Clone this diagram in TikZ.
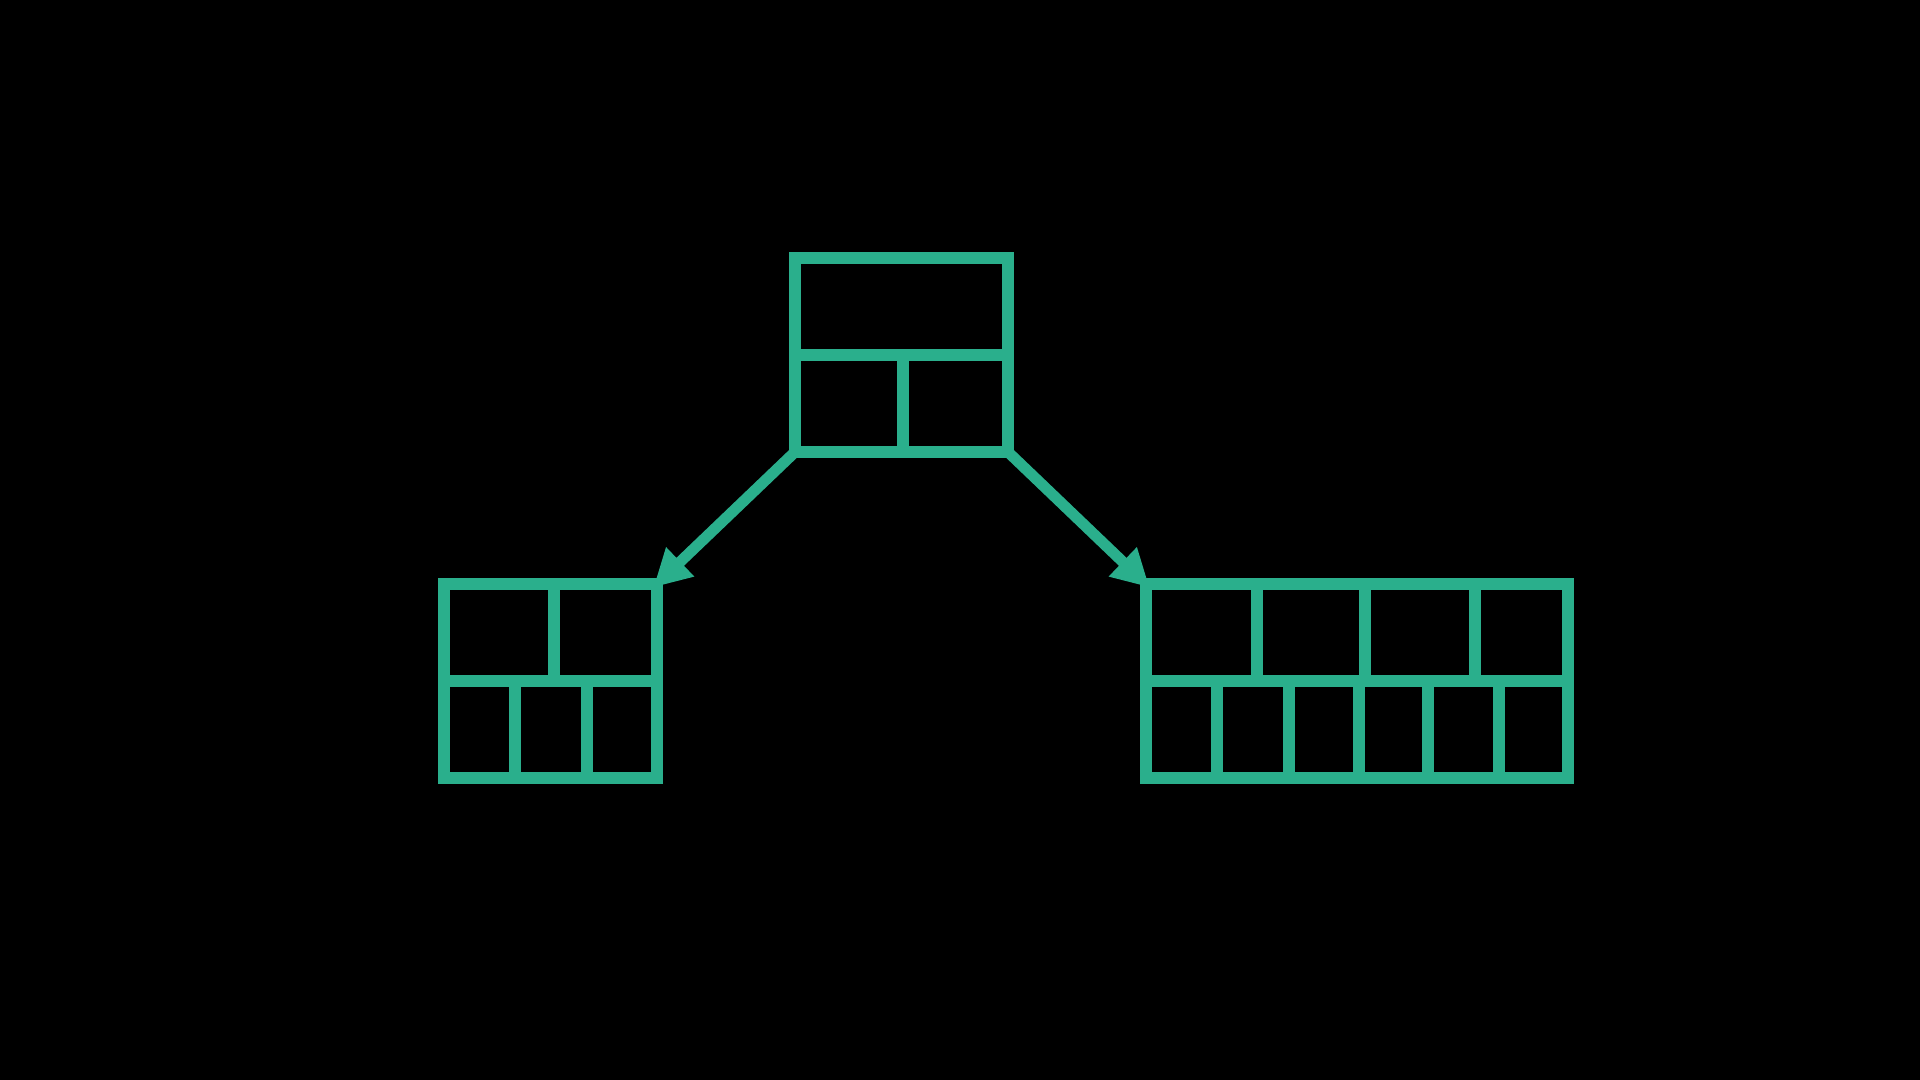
\documentclass[tikz,border=0pt]{standalone}
\usetikzlibrary{arrows.meta}

\definecolor{treegreen}{RGB}{42,175,140}

\tikzset{
  block/.style={draw=treegreen, line width=0.12cm, inner sep=0pt, outer sep=0pt, minimum height=1.94cm},
  cell/.style={draw=treegreen, line width=0.12cm},
  link/.style={draw=treegreen, line width=0.11cm, shorten >=-0.05cm,
    -{Triangle[length=0.37cm,width=0.38cm]}}
}

\begin{document}
\begin{tikzpicture}[x=0.01cm, y=-0.01cm]
\fill[black] (0, 0) rectangle (1920, 1080);
\useasboundingbox (0, 0) rectangle (1920, 1080);

% parent
\node[block, minimum width=2.13cm] (root) at (901.5, 355) {};
\draw[cell] (root.west) -- (root.east);
\draw[cell] (903, 355) -- (903, 452);

% left child
\node[block, minimum width=2.13cm] (left) at (550.5, 681) {};
\draw[cell] (left.west) -- (left.east);
\draw[cell] (554, 584) -- (554, 681);
\draw[cell] (515, 681) -- (515, 778);
\draw[cell] (587, 681) -- (587, 778);

% right child
\node[block, minimum width=4.22cm] (right) at (1357, 681) {};
\draw[cell] (right.west) -- (right.east);
\draw[cell] (1257, 584) -- (1257, 681);
\draw[cell] (1365, 584) -- (1365, 681);
\draw[cell] (1475, 584) -- (1475, 681);
\draw[cell] (1217, 681) -- (1217, 778);
\draw[cell] (1289, 681) -- (1289, 778);
\draw[cell] (1359, 681) -- (1359, 778);
\draw[cell] (1428, 681) -- (1428, 778);
\draw[cell] (1499, 681) -- (1499, 778);

\draw[link] (root.south west) -- (left.north east);
\draw[link] (root.south east) -- (right.north west);

\end{tikzpicture}
\end{document}
